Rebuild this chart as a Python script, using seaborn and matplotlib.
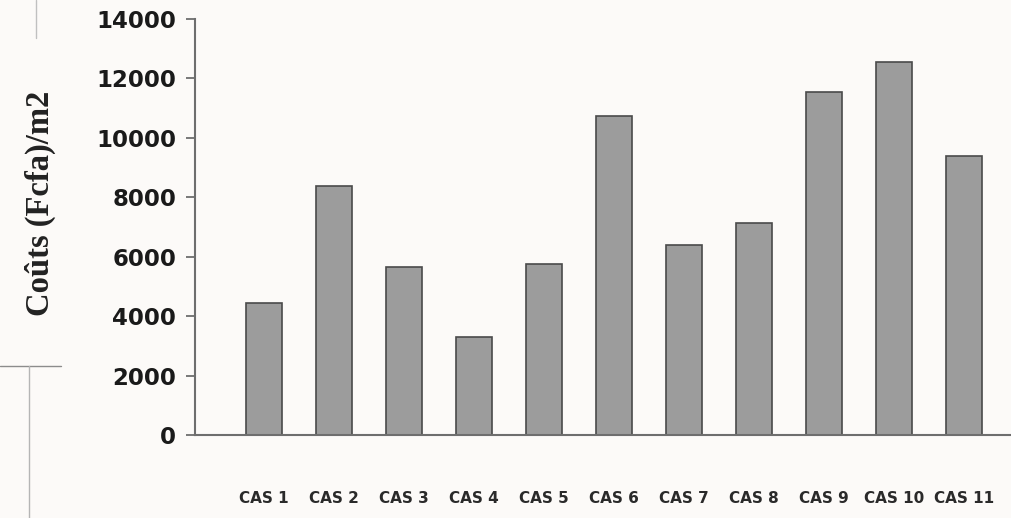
import matplotlib
matplotlib.use("Agg")
import matplotlib.pyplot as plt
import seaborn as sns
from matplotlib.lines import Line2D

categories = ["CAS 1", "CAS 2", "CAS 3", "CAS 4", "CAS 5", "CAS 6",
              "CAS 7", "CAS 8", "CAS 9", "CAS 10", "CAS 11"]
values = [4430, 8380, 5650, 3300, 5760, 10750, 6410, 7120, 11560, 12550, 9380]
yticks = [0, 2000, 4000, 6000, 8000, 10000, 12000, 14000]
ylabel = "Coûts (Fcfa)/m2"

sns.set_style("white")
plt.rcParams["font.family"] = ["DejaVu Sans"]

W, H = 1012, 518
bg = "#fcfaf8"
fig = plt.figure(figsize=(W / 100, H / 100), dpi=100, facecolor=bg)
ax = fig.add_axes([195 / W, 1 - 435 / H, 1 - 195 / W, 416 / H])
ax.set_facecolor(bg)

sns.barplot(x=categories, y=values, color="#9c9c9c", saturation=1,
            width=0.51, edgecolor="#4a4a4a", linewidth=1.2, ax=ax)

ax.set_xlim(-0.986, 10.686)
ax.set_ylim(0, 14000)
ax.set_yticks(yticks)
ax.set_yticklabels([str(v) for v in yticks])

for s in ["top", "right"]:
    ax.spines[s].set_visible(False)
for s in ["left", "bottom"]:
    ax.spines[s].set_color("#6e6e6e")
    ax.spines[s].set_linewidth(1.5)

ax.tick_params(axis="y", which="major", length=6.5, width=1.3, color="#6e6e6e",
               pad=7, direction="out", left=True)
ax.tick_params(axis="x", length=0, pad=40)
for lab in ax.get_yticklabels():
    lab.set_fontsize(16.5)
    lab.set_fontweight("bold")
    lab.set_color("#1a1a1a")
for lab in ax.get_xticklabels():
    lab.set_fontsize(11)
    lab.set_fontweight("bold")
    lab.set_color("#2a2a2a")

ax.set_xlabel("")
ax.set_ylabel(ylabel, family=["Liberation Serif", "DejaVu Serif"], fontsize=23.5,
              fontweight="bold", color="#222222")
ax.yaxis.label.set_va("center")
ax.yaxis.set_label_coords((40 - 195) / 817, (435 - 203.5) / 416)

# scan artefacts on the page (light rules)
c = "#8c8c8c"
fig.add_artist(Line2D([0, 61 / W], [1 - 366 / H] * 2, color=c, lw=1.0))
fig.add_artist(Line2D([29 / W] * 2, [1 - 366 / H, 0], color="#b5b5b5", lw=1.0))
fig.add_artist(Line2D([36 / W] * 2, [1, 1 - 38 / H], color="#c0c0c0", lw=1.0))

fig.savefig("out.png", dpi=100, facecolor=bg)
